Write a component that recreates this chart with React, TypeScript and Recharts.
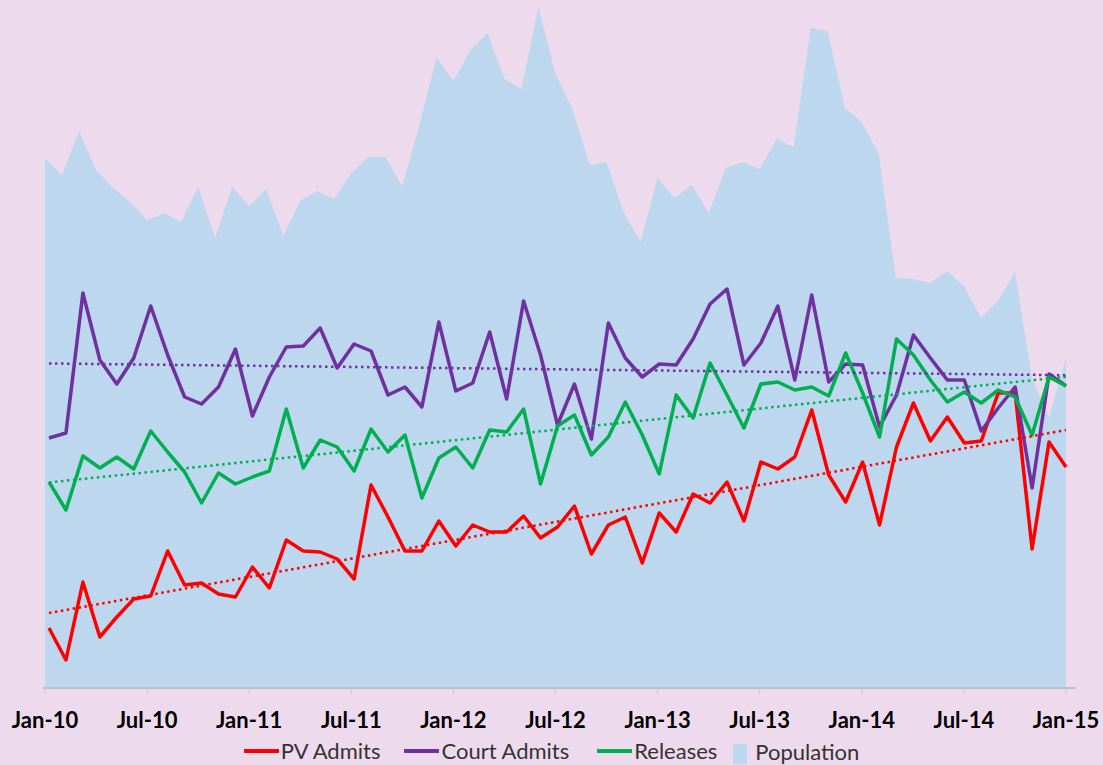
import React from "react";
import { ComposedChart, Area, Line, XAxis, YAxis, Legend } from "recharts";

const months = [
  "Jan-10","Feb-10","Mar-10","Apr-10","May-10","Jun-10","Jul-10","Aug-10","Sep-10","Oct-10","Nov-10","Dec-10",
  "Jan-11","Feb-11","Mar-11","Apr-11","May-11","Jun-11","Jul-11","Aug-11","Sep-11","Oct-11","Nov-11","Dec-11",
  "Jan-12","Feb-12","Mar-12","Apr-12","May-12","Jun-12","Jul-12","Aug-12","Sep-12","Oct-12","Nov-12","Dec-12",
  "Jan-13","Feb-13","Mar-13","Apr-13","May-13","Jun-13","Jul-13","Aug-13","Sep-13","Oct-13","Nov-13","Dec-13",
  "Jan-14","Feb-14","Mar-14","Apr-14","May-14","Jun-14","Jul-14","Aug-14","Sep-14","Oct-14","Nov-14","Dec-14",
  "Jan-15",
];

const pvAdmits = [
  60, 28, 106, 51, 71, 89, 92, 137, 103, 105, 94, 91,
  121, 100, 148, 137, 136, 129, 109, 203, 171, 137, 137, 167,
  142, 163, 156, 156, 172, 150, 161, 182, 134, 163, 171, 125,
  175, 156, 194, 185, 206, 167, 226, 219, 231, 278, 213, 186,
  226, 163, 241, 285, 247, 271, 245, 247, 295, 295, 139, 246,
  221,
];

const courtAdmits = [
  250, 255, 395, 328, 304, 330, 382, 333, 291, 284, 301, 339,
  272, 311, 341, 342, 360, 320, 344, 337, 293, 301, 281, 366,
  297, 305, 356, 289, 387, 333, 263, 304, 249, 365, 330, 311,
  324, 323, 349, 384, 399, 323, 345, 382, 308, 393, 306, 324,
  323, 261, 293, 353, 330, 308, 308, 257, 280, 301, 200, 314,
  302,
];

const releases = [
  206, 178, 232, 220, 231, 219, 257, 236, 216, 185, 215, 204,
  211, 217, 279, 220, 248, 241, 217, 259, 236, 253, 190, 230,
  241, 220, 258, 256, 279, 204, 262, 273, 233, 251, 286, 253,
  214, 293, 270, 325, 293, 260, 304, 306, 298, 301, 292, 335,
  295, 251, 349, 333, 308, 286, 296, 285, 298, 291, 253, 311,
  302,
];

const population = [
  529, 513, 557, 518, 500, 486, 468, 475, 466, 501, 450, 501,
  482, 499, 452, 487, 497, 489, 515, 531, 531, 502, 563, 631,
  607, 638, 655, 609, 599, 681, 614, 579, 523, 526, 476, 446,
  510, 490, 503, 475, 520, 526, 519, 549, 541, 660, 657, 580,
  566, 534, 410, 409, 405, 417, 402, 370, 387, 416, 310, 270,
  330,
];

const seriesNames = ["PV Admits", "Court Admits", "Releases", "Population"];

// Linear trend lines (least squares), as Excel's linear trendline does
function linearTrend(values: number[]): number[] {
  const n = values.length;
  let sx = 0, sy = 0, sxy = 0, sxx = 0;
  values.forEach((v, i) => { sx += i; sy += v; sxy += i * v; sxx += i * i; });
  const slope = (n * sxy - sx * sy) / (n * sxx - sx * sx);
  const intercept = (sy - slope * sx) / n;
  return values.map((_, i) => intercept + slope * i);
}

const pvTrend = linearTrend(pvAdmits);
const courtTrend = linearTrend(courtAdmits);
const relTrend = linearTrend(releases);

const data = months.map((m, i) => ({
  month: m,
  pv: pvAdmits[i],
  court: courtAdmits[i],
  rel: releases[i],
  pop: population[i],
  pvT: pvTrend[i],
  courtT: courtTrend[i],
  relT: relTrend[i],
}));

const RED = "#FF0000";
const PURPLE = "#7030A0";
const GREEN = "#00B050";
const BLUE = "#BDD7EE";
const BG = "#EEDAED";

const legendItems = [
  { name: seriesNames[0], color: RED, type: "line", ml: 0 },
  { name: seriesNames[1], color: PURPLE, type: "line", ml: 24 },
  { name: seriesNames[2], color: GREEN, type: "line", ml: 28 },
  { name: seriesNames[3], color: BLUE, type: "square", ml: 16 },
];

const renderLegend = () => (
  <div
    style={{
      display: "flex",
      justifyContent: "center",
      alignItems: "center",
      fontFamily: "Lato, 'Liberation Sans', sans-serif",
      fontSize: 22,
      color: "#333",
      height: 27,
      whiteSpace: "nowrap",
    }}
  >
    {legendItems.map((it) => (
      <div key={it.name} style={{ display: "flex", alignItems: "center", marginLeft: it.ml }}>
        {it.type === "line" ? (
          <span style={{ display: "inline-block", width: 35, height: 4, background: it.color, marginRight: 2 }} />
        ) : (
          <span style={{ display: "inline-block", width: 14, height: 20, background: it.color, marginRight: 8, marginTop: 6 }} />
        )}
        <span style={{ marginTop: it.type === "square" ? 2 : 0 }}>{it.name}</span>
      </div>
    ))}
  </div>
);

export default function App() {
  return (
    <div style={{ position: "absolute", left: 0, top: 0, width: 1103, height: 765, background: BG, overflow: "hidden" }}>
      <ComposedChart width={1103} height={765} data={data} margin={{ top: 0, right: 28, bottom: 0, left: 43 }}>
        <XAxis
          xAxisId="pop"
          dataKey="month"
          scale="point"
          interval={5}
          padding={{ left: 2, right: 9 }}
          height={77}
          axisLine={{ stroke: "#BFBFBF", strokeWidth: 2 }}
          tickLine={{ stroke: "#D0C4D0", strokeWidth: 1 }}
          tickSize={6}
          tickMargin={18}
          tick={{ fill: "#000", fontSize: 22, fontWeight: 700, fontFamily: "Lato, 'Liberation Sans', sans-serif" }}
        />
        <XAxis xAxisId="ln" dataKey="month" scale="point" hide height={0} padding={{ left: 6, right: 9 }} />
        <YAxis yAxisId="y" hide width={0} domain={[0, 688]} />
        <Legend verticalAlign="middle" align="center" layout="horizontal" content={renderLegend}
          wrapperStyle={{ top: 737, left: 0, width: 1103 }} />
        <Area xAxisId="pop" yAxisId="y" type="linear" dataKey="pop" name={seriesNames[3]} fill={BLUE} fillOpacity={1} stroke="none" isAnimationActive={false} />
        <Line xAxisId="ln" yAxisId="y" type="linear" dataKey="pv" name={seriesNames[0]} stroke={RED} strokeWidth={3.5} dot={false} strokeLinejoin="round" isAnimationActive={false} />
        <Line xAxisId="ln" yAxisId="y" type="linear" dataKey="court" name={seriesNames[1]} stroke={PURPLE} strokeWidth={3.5} dot={false} strokeLinejoin="round" isAnimationActive={false} />
        <Line xAxisId="ln" yAxisId="y" type="linear" dataKey="rel" name={seriesNames[2]} stroke={GREEN} strokeWidth={3.5} dot={false} strokeLinejoin="round" isAnimationActive={false} />
        <Line xAxisId="ln" yAxisId="y" type="linear" dataKey="pvT" legendType="none" stroke={RED} strokeWidth={2.5} strokeDasharray="2.5 3.5" dot={false} isAnimationActive={false} />
        <Line xAxisId="ln" yAxisId="y" type="linear" dataKey="courtT" legendType="none" stroke={PURPLE} strokeWidth={2.5} strokeDasharray="2.5 3.5" dot={false} isAnimationActive={false} />
        <Line xAxisId="ln" yAxisId="y" type="linear" dataKey="relT" legendType="none" stroke={GREEN} strokeWidth={2.5} strokeDasharray="2.5 3.5" dot={false} isAnimationActive={false} />
      </ComposedChart>
    </div>
  );
}
